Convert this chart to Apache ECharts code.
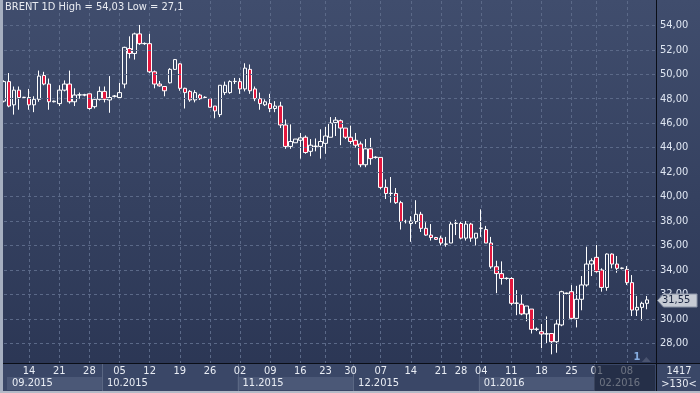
<!DOCTYPE html>
<html><head><meta charset="utf-8">
<script src="https://cdn.jsdelivr.net/npm/echarts@6/dist/echarts.min.js"></script>
<style>html,body{margin:0;padding:0;background:#2b3654}#c{width:700px;height:393px}</style>
</head><body><div id="c"></div>
<script>
// ---- data ----
const opens  = [47.8,49.4,47.5,48.7,48.1,48.1,47.5,47.95,49.9,49.2,47.75,47.6,48.7,49.2,47.75,48.3,48.3,48.4,47.35,47.95,48.6,47.9,48.2,48.1,49.2,52.1,51.7,53.3,52.5,52.5,50.2,49.2,49.0,49.3,50.4,50.85,48.85,48.6,47.9,48.3,48.1,48.0,47.4,46.7,48.5,48.5,49.4,49.4,48.8,50.4,48.8,48.0,47.5,47.6,47.2,47.4,45.85,44.1,44.4,44.6,44.85,43.7,44.1,44.1,44.35,44.85,46.05,46.2,45.6,44.85,44.6,44.3,42.6,43.9,43.2,43.2,40.75,40.25,40.25,39.5,37.95,37.8,37.95,38.55,37.4,36.85,36.65,36.6,36.1,36.2,37.8,37.8,36.6,37.75,36.6,37.4,37.3,36.2,34.26,33.7,33.3,33.3,31.27,31.2,30.4,30.8,29.14,28.95,28.76,28.8,28.13,29.5,32.08,32.22,30.04,31.6,32.77,34.48,35.03,33.99,32.57,35.3,34.48,34.13,34.05,32.96,30.72,30.94,31.27];
const closes = [49.4,47.4,48.7,48.1,48.12,47.5,47.95,49.85,49.2,47.75,47.8,48.7,49.2,47.75,48.3,48.32,48.32,47.2,47.95,48.6,47.95,48.1,48.22,48.5,52.2,51.7,53.3,52.5,52.52,50.2,49.2,49.05,48.65,50.4,51.2,48.85,48.5,47.9,48.5,48.0,48.12,47.3,47.0,49.1,49.1,49.4,49.42,48.8,50.5,48.65,48.0,47.6,47.75,47.2,47.4,45.85,44.1,44.5,44.7,44.8,43.6,44.2,44.12,44.5,44.95,46.0,46.25,45.6,44.85,44.5,44.2,42.6,43.9,43.1,43.22,40.75,40.25,40.27,39.5,37.95,37.97,38.0,38.55,37.4,36.85,36.65,36.5,36.2,36.12,37.75,37.82,36.6,37.75,36.6,37.0,37.42,36.2,34.25,33.7,33.3,33.32,31.27,31.29,30.4,31.05,29.14,29.16,28.76,28.78,28.13,29.58,32.22,32.1,30.04,31.6,32.77,34.48,34.75,33.86,32.57,35.3,34.48,34.13,34.15,32.96,30.72,30.94,31.27,31.55];
const lows   = [47.7,47.3,46.7,47.1,48.05,47.1,46.9,47.75,49.1,47.1,47.7,47.4,48.6,47.6,47.4,48.0,48.2,47.1,47.2,47.85,47.7,46.85,48.1,48.0,48.85,51.3,51.2,52.4,52.4,50.1,48.85,48.98,48.2,49.25,50.35,48.65,47.2,47.75,47.7,47.9,48.05,47.3,46.4,46.5,48.3,48.4,49.2,48.4,48.6,48.4,47.8,47.1,47.4,46.9,46.9,45.6,43.9,43.9,44.4,43.1,43.5,43.3,43.7,43.1,43.5,44.85,44.95,44.2,44.7,44.3,44.0,42.4,42.4,42.6,43.1,40.6,39.8,39.5,39.4,37.3,37.8,36.3,37.75,37.1,36.8,36.4,36.45,36.0,35.9,36.2,36.85,36.5,36.4,36.3,36.0,36.7,36.2,34.1,32.1,32.8,33.2,31.1,30.3,30.3,29.8,28.8,29.0,27.6,28.0,27.1,27.23,29.4,32.0,29.96,29.3,30.7,32.63,33.5,33.77,32.22,32.3,34.13,33.77,34.05,32.77,30.23,30.23,29.85,30.78];
const highs  = [49.5,50.1,49.0,49.0,48.15,48.8,48.2,50.3,50.2,49.65,47.85,49.1,49.5,50.3,48.85,48.5,48.4,48.4,48.1,49.0,49.0,49.85,48.3,49.3,52.25,53.1,53.4,54.03,52.6,53.3,50.3,49.45,49.0,50.5,51.25,50.9,48.9,48.7,48.7,48.4,48.2,48.0,47.4,49.1,49.4,49.5,49.7,49.7,50.9,50.8,49.0,48.5,47.95,48.4,47.8,47.75,46.3,45.9,44.7,45.2,45.0,44.7,44.75,45.5,45.7,46.5,46.5,46.3,45.6,45.8,45.2,44.5,44.7,44.8,43.3,43.2,41.4,41.6,40.7,39.65,38.1,38.4,39.7,38.75,37.9,37.75,36.7,36.8,36.7,37.95,38.1,37.95,38.0,37.85,37.0,38.95,37.6,36.7,34.75,34.7,33.4,33.4,32.35,32.0,31.05,30.8,29.3,29.58,30.2,28.8,29.9,32.3,32.15,32.76,32.7,33.5,35.9,34.95,36.04,34.13,35.35,35.35,35.14,34.2,34.32,33.58,31.87,31.4,31.87];
const padSlots = 2;                       // empty slots right of the last candle
const tickIdx  = [5,11,17,23,29,35,41,47,53,59,64,69,75,81,87,91,95,101,107,113,118,124];
const tickText = ['14','21','28','05','12','19','26','02','09','16','23','30','07','14','21','28','04','11','18','25','01','08'];
const months     = ['09.2015','10.2015','11.2015','12.2015','01.2016','02.2016'];
const monthStart = [-0.5,19.5,46.5,69.5,94.5,117.5];
const yTicks = [28,30,32,34,36,38,40,42,44,46,48,50,52,54];
const titleText = 'BRENT 1D High = 54,03 Low = 27,1';
const cornerTop = '1417', cornerBottom = '>130<';

// ---- chart ----
const FONT = "'Liberation Sans Narrow','DejaVu Sans Condensed','Liberation Sans',sans-serif";
const categories = [];
for (let i = 0; i < opens.length + padSlots; i++) categories.push(String(i));
const tickMap = {}; tickIdx.forEach((t, k) => tickMap[t] = tickText[k]);
const isTick = i => tickMap[i] !== undefined;
const fmt = v => Number(v).toFixed(2).replace('.', ',');
const ohlc = opens.map((o, i) => [o, closes[i], lows[i], highs[i]]);
const GRID = '#5b6988';

const chart = echarts.init(document.getElementById('c'), null, {renderer: 'canvas'});
chart.setOption({
  animation: false,
  backgroundColor: 'transparent',
  grid: {left: 4, right: 43, top: 1, bottom: 30, containLabel: false},
  xAxis: {
    type: 'category', data: categories, boundaryGap: false,
    axisLine: {show: false}, axisTick: {show: false},
    axisLabel: {interval: (i) => isTick(i), formatter: (v, i) => tickMap[i] || '',
      color: '#e9edf4', fontSize: 11, fontFamily: FONT, margin: 3},
    splitLine: {show: true, interval: (i) => isTick(i), lineStyle: {color: GRID, type: [3, 3], width: 1}}
  },
  yAxis: {
    type: 'value', position: 'right', min: 26.39, max: 55.99, scale: true,
    axisLine: {show: false}, axisTick: {show: false}, axisLabel: {show: false}, splitLine: {show: false}
  },
  series: [
    {
      type: 'line', data: [], z: 1, silent: true,
      markLine: {
        silent: true, symbol: ['none', 'none'], animation: false,
        lineStyle: {color: GRID, type: [3, 3], width: 1},
        label: {show: true, position: 'end', distance: 3, formatter: p => fmt(p.value),
          color: '#dfe6f2', fontSize: 11, fontFamily: FONT},
        emphasis: {disabled: true},
        data: yTicks.map(v => ({yAxis: v}))
      }
    },
    {
      type: 'candlestick', data: ohlc, z: 3, barWidth: 4,
      itemStyle: {color: 'rgba(0,0,0,0)', color0: '#e3173e', borderColor: '#ffffff', borderColor0: '#ffffff', borderWidth: 1}
    }
  ]
});

// ---- decorations placed through the chart's own scales ----
const px = i => chart.convertToPixel({xAxisIndex: 0}, i);
const pxf = f => { const a = Math.floor(f); return px(a) + (px(a + 1) - px(a)) * (f - a); };
const plotRight = 656.5, panelTop = 363;
const g = [];
g.push({type: 'rect', z: -10, silent: true, shape: {x: 0, y: 0, width: 700, height: 393},
  style: {fill: new echarts.graphic.LinearGradient(0, 0, 0, 1, [{offset: 0, color: '#404d6d'}, {offset: 1, color: '#2a3553'}])}});
g.push({type: 'rect', z: -5, silent: true, shape: {x: 0, y: panelTop, width: 700, height: 30}, style: {fill: '#3a4767'}});
months.forEach((m, k) => {
  const x0 = k === 0 ? 7 : pxf(monthStart[k]);
  const x1 = k + 1 < months.length ? pxf(monthStart[k + 1]) : 655;
  if (k % 2 === 0 && k < months.length - 1)
    g.push({type: 'rect', z: -4, silent: true, shape: {x: x0, y: 377, width: x1 - x0, height: 13}, style: {fill: '#4b5877'}});
  if (k > 0)
    g.push({type: 'line', z: -3, silent: true, shape: {x1: Math.round(x0) + 0.5, y1: 364, x2: Math.round(x0) + 0.5, y2: 391}, style: {stroke: '#5a6783', lineWidth: 1}});
  g.push({type: 'text', z: -2, silent: true, x: x0 + 5, y: 383.5,
    style: {text: m, fill: '#e9edf4', font: '11px ' + FONT, textVerticalAlign: 'middle'}});
});
// dimmed current-month block
const fx0 = pxf(monthStart[5]);
g.push({type: 'rect', z: 50, silent: true, shape: {x: fx0, y: 365, width: 655 - fx0, height: 26}, style: {fill: 'rgba(24,31,52,0.6)'}});
// separators
g.push({type: 'line', z: 60, silent: true, shape: {x1: 0, y1: panelTop + 0.5, x2: 700, y2: panelTop + 0.5}, style: {stroke: '#0a0e17', lineWidth: 1}});
g.push({type: 'line', z: 60, silent: true, shape: {x1: plotRight, y1: 0, x2: plotRight, y2: 393}, style: {stroke: '#0a0e17', lineWidth: 1}});
// corner box
g.push({type: 'text', z: 60, silent: true, x: 679, y: 371.5, style: {text: cornerTop, fill: '#e9edf4', font: '11px ' + FONT, textAlign: 'center', textVerticalAlign: 'middle'}});
g.push({type: 'line', z: 60, silent: true, shape: {x1: 667, y1: 377.5, x2: 691, y2: 377.5}, style: {stroke: '#8590a8', lineWidth: 1}});
g.push({type: 'text', z: 60, silent: true, x: 679, y: 384, style: {text: cornerBottom, fill: '#e9edf4', font: '11px ' + FONT, textAlign: 'center', textVerticalAlign: 'middle'}});
// title
g.push({type: 'text', z: 60, silent: true, x: 5, y: 7.5, style: {text: titleText, fill: '#e8ebf1', font: '11px ' + FONT, textVerticalAlign: 'middle'}});
// last price tag
const lastClose = closes[closes.length - 1];
const ty = Math.round(chart.convertToPixel({yAxisIndex: 0}, lastClose)) + 0.5;
g.push({type: 'polygon', z: 70, silent: true,
  shape: {points: [[plotRight + 1, ty], [plotRight + 7, ty - 6.5], [697, ty - 6.5], [697, ty + 6.5], [plotRight + 7, ty + 6.5]]},
  style: {fill: '#c6cbd4', stroke: '#8a93a6', lineWidth: 1}});
g.push({type: 'text', z: 71, silent: true, x: 662, y: ty, style: {text: fmt(lastClose), fill: '#1e2944', font: '11px ' + FONT, textVerticalAlign: 'middle'}});
// "1" marker
const mx = px(closes.length - 5);
g.push({type: 'text', z: 60, silent: true, x: mx + 10, y: 357, style: {text: '1', fill: '#86acdf', font: 'bold 11px ' + FONT, textAlign: 'center', textVerticalAlign: 'middle'}});
g.push({type: 'polygon', z: 59, silent: true, shape: {points: [[mx + 15, 362], [mx + 19.5, 357], [mx + 24, 362]]}, style: {fill: '#4a5470'}});
// frame
g.push({type: 'rect', z: 80, silent: true, shape: {x: 0, y: 0, width: 3, height: 393}, style: {fill: '#a6afc0'}});
g.push({type: 'rect', z: 80, silent: true, shape: {x: 0, y: 391, width: 700, height: 2}, style: {fill: '#b3bac7'}});
chart.setOption({graphic: g});
</script>
</body></html>
